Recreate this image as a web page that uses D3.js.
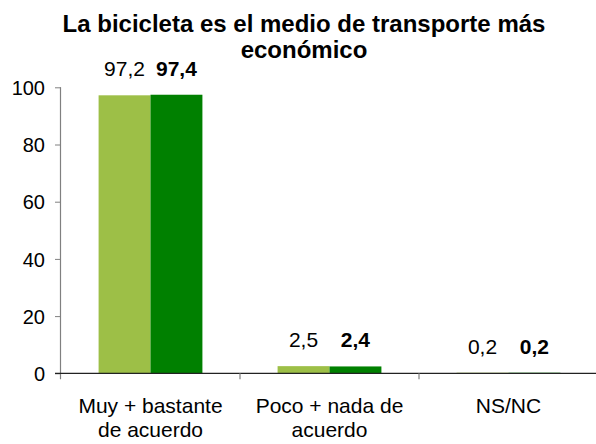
<!DOCTYPE html>
<html>
<head>
<meta charset="utf-8">
<script src="https://cdn.jsdelivr.net/npm/d3@7/dist/d3.min.js"></script>
<style>
  html, body { margin: 0; padding: 0; background: #fff; }
  svg { display: block; font-family: "Liberation Sans", Arial, sans-serif; }
</style>
</head>
<body>
<svg id="chart" width="596" height="444"></svg>
<script>
// Survey answers: two waves per answer group
const categories = [["Muy + bastante", "de acuerdo"], ["Poco + nada de", "acuerdo"], ["NS/NC"]];
const seriesNames = ["Serie 1", "Serie 2"];
const serie1 = [97.2, 2.5, 0.2];
const serie2 = [97.4, 2.4, 0.2];
const yTicks = [0, 20, 40, 60, 80, 100];
const titleLines = ["La bicicleta es el medio de transporte más", "económico"];

const colors = ["#9dbf47", "#008000"];
const fmt = v => d3.format(".1f")(v).replace(".", ",");

const svg = d3.select("#chart");
const W = 596;
const plotLeft = 61, plotRight = 598, plotTop = 87.3, plotBottom = 373.3;

const keys = categories.map((c, i) => i);
const x = d3.scaleBand().domain(keys).range([plotLeft, plotRight]).paddingInner(0).paddingOuter(0);
const y = d3.scaleLinear().domain([0, 100]).range([plotBottom, plotTop]);

const groupWidth = x.bandwidth() * 0.58;
const x1 = d3.scaleBand().domain(seriesNames).range([0, groupWidth]).padding(0);

// Title
svg.append("text")
  .attr("x", 304).attr("y", 31.5)
  .attr("text-anchor", "middle")
  .style("font-weight", "bold").style("font-size", "24px").attr("fill", "#000")
  .selectAll("tspan").data(titleLines).join("tspan")
  .attr("x", 304).attr("dy", (d, i) => i === 0 ? 0 : 26)
  .text(d => d);

// Y axis
const yAxis = svg.append("g")
  .attr("transform", `translate(${plotLeft},0)`)
  .call(d3.axisLeft(y).tickValues(yTicks).tickSize(6).tickSizeOuter(0).tickPadding(10).tickFormat(d3.format("d")));
yAxis.select(".domain").remove();
yAxis.selectAll(".tick line").attr("stroke", "#808080");
yAxis.selectAll(".tick text").style("font-size", "20px").attr("fill", "#000").attr("dy", "0.36em");
svg.append("line")
  .attr("x1", plotLeft - 0.5).attr("x2", plotLeft - 0.5)
  .attr("y1", y(100)).attr("y2", y(0) + 6)
  .attr("stroke", "#808080").attr("stroke-width", 1.2);

// Bars
const groups = svg.append("g").selectAll("g").data(keys).join("g")
  .attr("transform", d => `translate(${x(d) + (x.bandwidth() - groupWidth) / 2},0)`);

const rows = keys.map(i => [
  { name: seriesNames[0], v: serie1[i], bold: false },
  { name: seriesNames[1], v: serie2[i], bold: true }
]);

groups.selectAll("rect").data(d => rows[d]).join("rect")
  .attr("x", d => x1(d.name))
  .attr("width", x1.bandwidth())
  .attr("y", d => y(d.v))
  .attr("height", d => y(0) - y(d.v))
  .attr("fill", (d, i) => colors[i]);

groups.selectAll("text.val").data(d => rows[d]).join("text")
  .attr("class", "val")
  .attr("x", d => x1(d.name) + x1.bandwidth() / 2)
  .attr("y", d => y(d.v) - 19)
  .attr("text-anchor", "middle")
  .style("font-size", "21px")
  .style("font-weight", d => d.bold ? "bold" : "normal")
  .attr("fill", "#000")
  .text(d => fmt(d.v));

// X axis
svg.append("line")
  .attr("x1", plotLeft - 6).attr("x2", W)
  .attr("y1", plotBottom).attr("y2", plotBottom)
  .attr("stroke", "#222").attr("stroke-width", 1.2);
svg.append("g").selectAll("line").data(keys.slice(1)).join("line")
  .attr("x1", d => x(d)).attr("x2", d => x(d))
  .attr("y1", plotBottom).attr("y2", plotBottom + 6)
  .attr("stroke", "#808080").attr("stroke-width", 1.2);

// Category labels
svg.append("g").selectAll("text").data(keys).join("text")
  .attr("x", d => x(d) + x.bandwidth() / 2)
  .attr("y", 412.5)
  .attr("text-anchor", "middle")
  .style("font-size", "21px").attr("fill", "#000")
  .selectAll("tspan").data(d => categories[d]).join("tspan")
  .attr("x", function () { return d3.select(this.parentNode).attr("x"); })
  .attr("dy", (d, i) => i === 0 ? 0 : 24.5)
  .text(d => d);
</script>
</body>
</html>
